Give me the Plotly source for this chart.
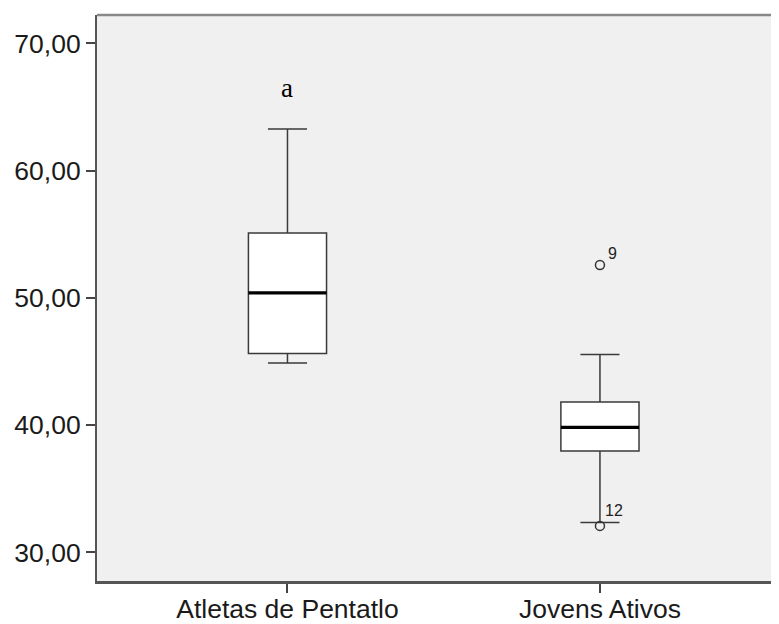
import plotly.graph_objects as go

categories = ["Atletas de Pentatlo", "Jovens Ativos"]
q1 = [45.61, 37.96]
median = [50.38, 39.82]
q3 = [55.09, 41.80]
lower_whisker = [44.88, 32.33]
upper_whisker = [63.27, 45.54]

outlier_x = ["Jovens Ativos", "Jovens Ativos"]
outlier_y = [52.58, 32.07]
outlier_labels = ["9", "12"]

y_ticks = [30, 40, 50, 60, 70]
y_tick_text = ["30,00", "40,00", "50,00", "60,00", "70,00"]

sig_label = "a"
sig_y = 66.46

FONT = "Liberation Sans, Arial, sans-serif"

fig = go.Figure()

# Main boxes
fig.add_trace(go.Box(
    x=categories, q1=q1, median=median, q3=q3,
    lowerfence=lower_whisker, upperfence=upper_whisker,
    width=0.25, whiskerwidth=0.5,
    fillcolor="white",
    line=dict(color="#3a3a3a", width=1.5),
    boxpoints=False, showlegend=False, hoverinfo="skip",
))

# Thick median lines drawn as flat boxes at the median value
fig.add_trace(go.Box(
    x=categories, q1=median, median=median, q3=median,
    lowerfence=median, upperfence=median,
    width=0.25, whiskerwidth=0,
    fillcolor="rgba(0,0,0,0)",
    line=dict(color="black", width=3.2),
    boxpoints=False, showlegend=False, hoverinfo="skip",
))

# Outliers
fig.add_trace(go.Scatter(
    x=outlier_x, y=outlier_y, mode="markers",
    marker=dict(symbol="circle-open", size=9, color="#333333",
                line=dict(width=1.5, color="#333333")),
    showlegend=False, hoverinfo="skip",
))

for xv, yv, lab, xs, ys in zip(outlier_x, outlier_y, outlier_labels, [13, 14], [11, 15]):
    fig.add_annotation(x=xv, y=yv, text=lab, showarrow=False,
                       xshift=xs, yshift=ys,
                       font=dict(family=FONT, size=16, color="#222222"))

fig.add_annotation(x=categories[0], y=sig_y, text=sig_label, showarrow=False,
                   font=dict(family="Liberation Serif, Times New Roman, serif",
                             size=27, color="black"))

# top border line
fig.add_shape(type="line", xref="paper", yref="paper", x0=0, x1=1, y0=1, y1=1,
              line=dict(color="#888888", width=2.5))

fig.update_layout(
    width=771, height=616,
    margin=dict(l=89, r=0, t=7, b=43, autoexpand=False),
    paper_bgcolor="white",
    plot_bgcolor="#f0f0f0",
    font=dict(family=FONT, size=26, color="#1a1a1a"),
)
fig.update_xaxes(
    type="category", range=[-0.6096, 1.573],
    showline=True, linecolor="#555555", linewidth=2.5,
    ticks="outside", ticklen=9, tickwidth=1.5, tickcolor="#444444",
    tickfont=dict(size=26.5), showgrid=False, zeroline=False,
    ticklabelstandoff=-7,
    automargin=False,
)
fig.update_yaxes(
    range=[27.74, 72.22], tickvals=y_ticks, ticktext=y_tick_text,
    showline=True, linecolor="#555555", linewidth=2,
    ticks="outside", ticklen=9, tickwidth=1.5, tickcolor="#444444",
    tickfont=dict(size=26.5), showgrid=False, zeroline=False,
    automargin=False,
)

fig.write_html("out.html")
